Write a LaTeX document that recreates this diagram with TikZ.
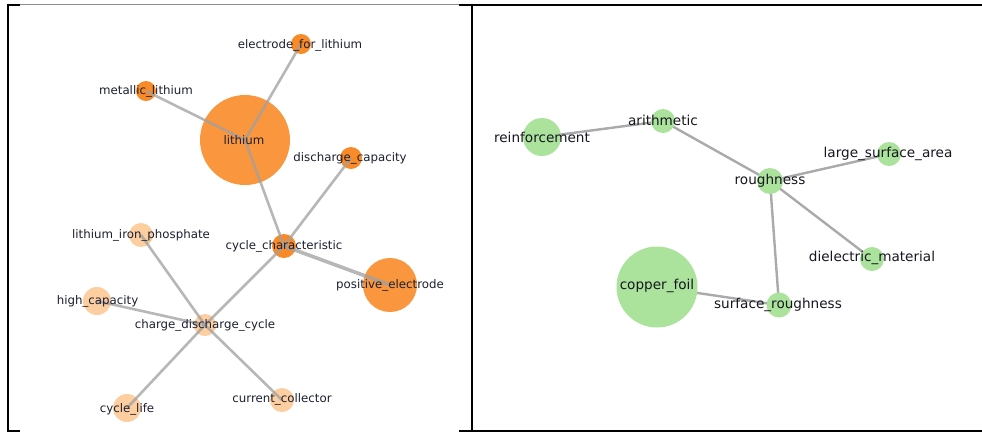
\documentclass[tikz,border=0pt]{standalone}
\usepackage{fontspec}
\setmainfont{DejaVu Sans}
\definecolor{orD}{RGB}{248,138,40}
\definecolor{orM}{RGB}{250,150,62}
\definecolor{orL}{RGB}{253,206,160}
\definecolor{grn}{RGB}{171,226,156}
\definecolor{edgec}{RGB}{160,160,160}
\definecolor{txtL}{RGB}{28,32,48}
\definecolor{txtR}{RGB}{22,22,32}
\definecolor{frameg}{RGB}{140,140,140}
\tikzset{
  dot/.style={circle, draw=none, fill=#1, inner sep=0pt},
  ltxt/.style={inner sep=0pt, text=txtL, font=\fontsize{11.8}{12}\selectfont},
  rtxt/.style={inner sep=0pt, text=txtR, font=\fontsize{13.6}{14}\selectfont},
  ledge/.style={draw=edgec, line width=2.6pt, opacity=0.75},
  redge/.style={draw=edgec!90, line width=2.4pt},
  framek/.style={draw=black, line width=2pt},
}
\begin{document}
\begin{tikzpicture}[x=1pt, y=-1pt]
\useasboundingbox (0,0) rectangle (982,432);
\fill[white] (0,0) rectangle (982,432);
% frame
\draw[framek] (7,5) -- (20,5);
\draw[draw=frameg, line width=1.3pt] (20,4.6) -- (459,4.6);
\draw[framek] (459,5) -- (982,5);
\draw[framek] (8,4) -- (8,432);
\draw[draw=black, line width=1.6pt] (471.7,5) -- (471.7,432);
\draw[framek] (7,431) -- (20,431);
\draw[framek] (459,431) -- (982,431);

% ---------- left panel nodes ----------
\node[dot=orM, minimum size=90pt] (lithium) at (245,140) {};
\node[dot=orD, minimum size=20pt] (efl) at (301,44) {};
\node[dot=orD, minimum size=20pt] (ml) at (146,91) {};
\node[dot=orD, minimum size=22pt] (dc) at (351,158) {};
\node[dot=orD, minimum size=24pt] (cc) at (284,246) {};
\node[dot=orM, minimum size=54pt] (pe) at (390,285) {};
\node[dot=orL, minimum size=24pt] (lip) at (141,235) {};
\node[dot=orL, minimum size=28pt] (hc) at (97,301) {};
\node[dot=orL, minimum size=22pt] (cdc) at (205,325) {};
\node[dot=orL, minimum size=28pt] (cl) at (127,408) {};
\node[dot=orL, minimum size=24pt] (ccol) at (282,400) {};

% left edges (drawn over the circles)
\draw[ledge] (lithium.center) -- (efl.center);
\draw[ledge] (lithium.center) -- (ml.center);
\draw[ledge] (lithium.center) -- (cc.center);
\draw[ledge] (dc.center) -- (cc.center);
\draw[ledge, line width=3.6pt] (cc.center) -- (pe.center);
\draw[ledge] (cc.center) -- (cdc.center);
\draw[ledge] (lip.center) -- (cdc.center);
\draw[ledge] (hc.center) -- (cdc.center);
\draw[ledge] (cdc.center) -- (cl.center);
\draw[ledge] (cdc.center) -- (ccol.center);

% left labels
\node[ltxt] (lithium-t) at (244,140) {lithium};
\node[ltxt] (efl-t) at (300,45) {electrode\_for\_lithium};
\node[ltxt] (ml-t) at (146,91) {metallic\_lithium};
\node[ltxt] (dc-t) at (350,158) {discharge\_capacity};
\node[ltxt] (cc-t) at (284,246) {cycle\_characteristic};
\node[ltxt] (pe-t) at (390,285) {positive\_electrode};
\node[ltxt] (lip-t) at (141,235) {lithium\_iron\_phosphate};
\node[ltxt] (hc-t) at (97.5,301) {high\_capacity};
\node[ltxt] (cdc-t) at (205,325) {charge\_discharge\_cycle};
\node[ltxt] (cl-t) at (127,409) {cycle\_life};
\node[ltxt] (ccol-t) at (282,399) {current\_collector};

% ---------- right panel ----------
\coordinate (reinf-c) at (542,137);
\coordinate (arith-c) at (663,121);
\coordinate (rough-c) at (770,181);
\coordinate (lsa-c) at (889,154);
\coordinate (diel-c) at (872,259);
\coordinate (cu-c) at (657,287);
\coordinate (sr-c) at (779,305);
\draw[redge] (reinf-c) -- (arith-c);
\draw[redge] (arith-c) -- (rough-c);
\draw[redge] (rough-c) -- (lsa-c);
\draw[redge] (rough-c) -- (diel-c);
\draw[redge] (rough-c) -- (sr-c);
\draw[redge] (cu-c) -- (sr-c);

\node[dot=grn, minimum size=38pt] (reinf) at (reinf-c) {};
\node[dot=grn, minimum size=24pt] (arith) at (arith-c) {};
\node[dot=grn, minimum size=26pt] (rough) at (rough-c) {};
\node[dot=grn, minimum size=24pt] (lsa) at (lsa-c) {};
\node[dot=grn, minimum size=24pt] (diel) at (diel-c) {};
\node[dot=grn, minimum size=81pt] (cu) at (cu-c) {};
\node[dot=grn, minimum size=25pt] (sr) at (sr-c) {};

\node[rtxt] (reinf-t) at (542,137) {reinforcement};
\node[rtxt] (arith-t) at (663,120) {arithmetic};
\node[rtxt] (rough-t) at (770,181) {roughness};
\node[rtxt] (lsa-t) at (888,154) {large\_surface\_area};
\node[rtxt] (diel-t) at (872,258) {dielectric\_material};
\node[rtxt] (cu-t) at (657,286) {copper\_foil};
\node[rtxt] (sr-t) at (778,305) {surface\_roughness};
\end{tikzpicture}
\end{document}
